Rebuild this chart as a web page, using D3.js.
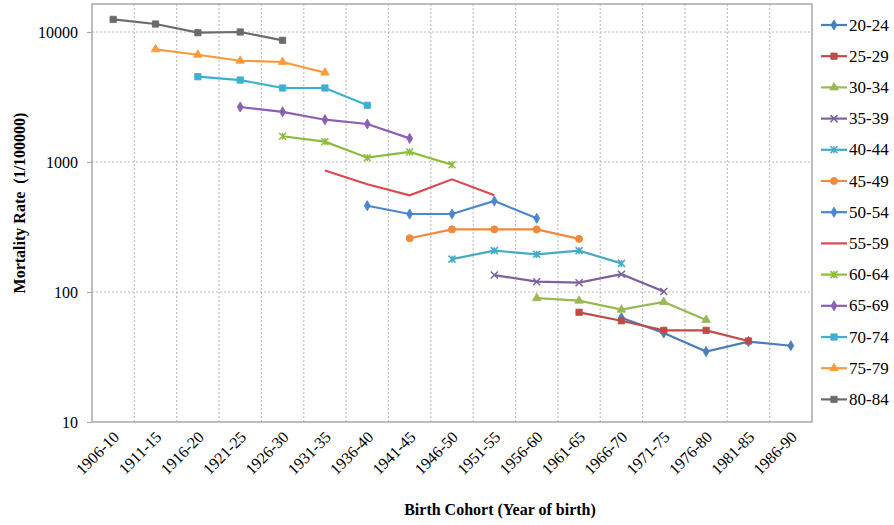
<!DOCTYPE html>
<html><head><meta charset="utf-8">
<script src="https://cdn.jsdelivr.net/npm/d3@7"></script>
<style>
body{margin:0;background:#fff;}
svg text{font-family:"Liberation Serif","Times New Roman",serif !important;fill:#000;}
</style></head>
<body><svg id="c" width="894" height="525"></svg>
<script>
const categories = ["1906-10","1911-15","1916-20","1921-25","1926-30","1931-35","1936-40","1941-45","1946-50","1951-55","1956-60","1961-65","1966-70","1971-75","1976-80","1981-85","1986-90"];
const seriesNames = ["20-24","25-29","30-34","35-39","40-44","45-49","50-54","55-59","60-64","65-69","70-74","75-79","80-84"];
const seriesStart = [12,11,10,9,8,7,6,5,4,3,2,1,0];
const s20_24 = [63.4,48.4,34.8,41.5,38.6];
const s25_29 = [69.8,60.1,50.7,50.7,42];
const s30_34 = [89.6,85.8,73.1,83.8,61];
const s35_39 = [135,120,118,137,101];
const s40_44 = [179,208,195,208,166];
const s45_49 = [259,303,303,303,256];
const s50_54 = [461,398,398,501,369];
const s55_59 = [861,675,555,736,555];
const s60_64 = [1578,1433,1079,1194,953];
const s65_69 = [2650,2430,2115,1960,1520];
const s70_74 = [4530,4270,3710,3710,2730];
const s75_79 = [7360,6680,6010,5880,4870];
const s80_84 = [12500,11520,9880,10000,8630];
const seriesValues = [s20_24,s25_29,s30_34,s35_39,s40_44,s45_49,s50_54,s55_59,s60_64,s65_69,s70_74,s75_79,s80_84];
const colors = ["#4a7ebb","#be4b48","#98b954","#7d60a0","#46aac5","#f0883e","#4a86d0","#dc4750","#8cbd3a","#8a5fb5","#3cb0d0","#fb9a3d","#6b6b6b"];
const markers = ["diamond","square","triangle","x","asterisk","circle","diamond","none","star","diamond","square","triangle","square"];
const yTicks = [10,100,1000,10000];

const svg = d3.select("#c");
const L=92,R=812,T=4,B=422;
const x = d3.scaleBand().domain(categories).range([L,R]).padding(0);
const y = d3.scaleLog().domain([10, Math.pow(10, 1 + 3*(B-T)/(B-32))]).range([B,T]);

// grid
const g = svg.append("g");
yTicks.filter(v=>v>10).forEach(v=>{
  g.append("line").attr("x1",L).attr("x2",R).attr("y1",y(v)).attr("y2",y(v))
   .attr("stroke","#b8b8b8").attr("stroke-width",1.2).attr("stroke-dasharray","2,2");
});
categories.slice(1).forEach(c=>{
  g.append("line").attr("x1",x(c)).attr("x2",x(c)).attr("y1",T).attr("y2",B)
   .attr("stroke","#c0c0c0").attr("stroke-width",1.2).attr("stroke-dasharray","2,2");
});
// border
svg.append("rect").attr("x",L).attr("y",T).attr("width",R-L).attr("height",B-T)
  .attr("fill","none").attr("stroke","#a8a8a8").attr("stroke-width",1.5);

// y axis
const ya = svg.append("g").attr("transform",`translate(${L},0)`)
  .call(d3.axisLeft(y).tickValues(yTicks).tickFormat(d3.format("d")).tickSize(5).tickPadding(9));
ya.select(".domain").remove();
ya.attr("font-family",null);
ya.selectAll("line").attr("stroke","#a8a8a8").attr("stroke-width",1.2);
ya.selectAll("text").style("font-size","16px").attr("fill","#000").attr("dy","0.35em");

// x axis labels
const xa = svg.append("g").attr("transform",`translate(0,${B})`)
  .call(d3.axisBottom(x).tickSize(0).tickPadding(0));
xa.select(".domain").remove();
xa.attr("font-family",null);
xa.selectAll("text").style("font-size","16px").attr("fill","#000")
  .attr("text-anchor","end").attr("dy","0").attr("y",0)
  .attr("transform","translate(7,16) rotate(-45)");

// titles
svg.append("text").attr("x",500).attr("y",515).attr("text-anchor","middle")
  .style("font-size","16px").style("font-weight","bold").text("Birth Cohort (Year of birth)");
svg.append("text").attr("transform","translate(25,203) rotate(-90)").attr("text-anchor","middle")
  .style("font-size","16px").style("font-weight","bold").style("white-space","pre").text("Mortality Rate  (1/100000)");

function drawMarker(sel, type, color, cx, cy){
  if(type==="none") return;
  if(type==="x"||type==="asterisk"||type==="star"){
    const s=3.5;
    const p = `M${cx-s},${cy-s}L${cx+s},${cy+s}M${cx-s},${cy+s}L${cx+s},${cy-s}` + (type!=="x"?`M${cx},${cy-s}L${cx},${cy+s}`:"");
    sel.append("path").attr("d",p).attr("stroke",color).attr("stroke-width",1.5).attr("fill","none");
    return;
  }
  const map={diamond:[d3.symbolDiamond,30],square:[d3.symbolSquare,40],triangle:[d3.symbolTriangle,32],circle:[d3.symbolCircle,40]};
  const [sym,size]=map[type];
  sel.append("path").attr("d",d3.symbol().type(sym).size(size)())
    .attr("transform",`translate(${cx},${cy})`).attr("fill",color).attr("stroke",color).attr("stroke-width",0.8);
}

const line = d3.line().x(d=>d[0]).y(d=>d[1]);
seriesValues.forEach((vals,i)=>{
  const pts = vals.map((v,j)=>[x(categories[seriesStart[i]+j])+x.bandwidth()/2, y(v)]);
  const sg = svg.append("g");
  sg.append("path").attr("d",line(pts)).attr("fill","none").attr("stroke",colors[i]).attr("stroke-width",2.2);
  pts.forEach(p=>drawMarker(sg,markers[i],colors[i],p[0],p[1]));
});

// legend
const lg = svg.append("g");
seriesNames.forEach((n,i)=>{
  const ly = 25 + i*31.2;
  lg.append("line").attr("x1",821).attr("x2",847).attr("y1",ly).attr("y2",ly).attr("stroke",colors[i]).attr("stroke-width",2.2);
  drawMarker(lg,markers[i],colors[i],834,ly);
  lg.append("text").attr("x",849).attr("y",ly+5.5).style("font-size","17px").text(n);
});
</script></body></html>
